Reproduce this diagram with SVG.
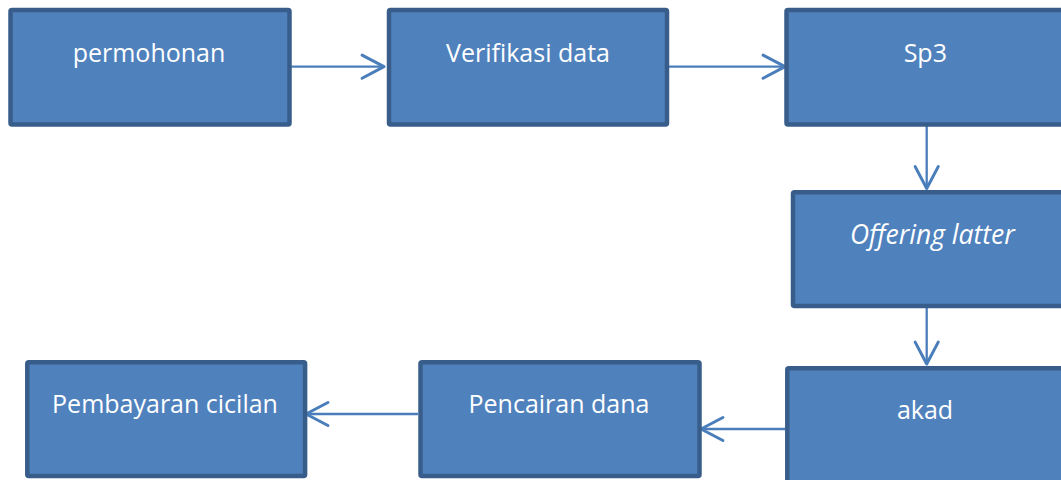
<svg xmlns="http://www.w3.org/2000/svg" width="1061" height="480" viewBox="0 0 1061 480">
  <style>
    .box { fill: #4F81BD; stroke: #385D8A; stroke-width: 4.5; }
    .lbl { fill: #FFFFFF; font-family: "Open Sans", "Liberation Sans", sans-serif; font-size: 25px; text-anchor: middle; }
    .it { font-style: italic; font-size: 26.5px; }
    .edge { fill: none; stroke: #4A7EBB; stroke-width: 2.3; }
  </style>
  <defs>
    <marker id="arrow" markerUnits="userSpaceOnUse" markerWidth="30" markerHeight="30" viewBox="-22 -13 26 26" refX="0" refY="0" orient="auto">
      <path d="M-19,-10 L0,0 L-19,10" fill="none" stroke="#4A7EBB" stroke-width="2.6" stroke-linejoin="round" stroke-linecap="round"/>
    </marker>
  </defs>

  <g id="connectors">
    <line class="edge" x1="291" y1="66.7" x2="384" y2="66.7" marker-end="url(#arrow)"/>
    <line class="edge" x1="669" y1="66.7" x2="785" y2="66.7" marker-end="url(#arrow)"/>
    <line class="edge" x1="926.7" y1="126" x2="926.7" y2="188.5" marker-end="url(#arrow)"/>
    <line class="edge" x1="926.7" y1="308" x2="926.7" y2="364" marker-end="url(#arrow)"/>
    <line class="edge" x1="785" y1="429" x2="701" y2="429" marker-end="url(#arrow)"/>
    <line class="edge" x1="418" y1="414" x2="306" y2="414" marker-end="url(#arrow)"/>
  </g>

  <g id="node-permohonan">
    <rect class="box" x="10.5" y="10" width="279" height="114.5" rx="1.5"/>
    <text class="lbl" x="149" y="62">permohonan</text>
  </g>
  <g id="node-verifikasi">
    <rect class="box" x="389" y="10" width="278" height="114.5" rx="1.5"/>
    <text class="lbl" x="528" y="62">Verifikasi data</text>
  </g>
  <g id="node-sp3">
    <rect class="box" x="786.5" y="10" width="280" height="114.5" rx="1.5"/>
    <text class="lbl" x="925.3" y="62">Sp3</text>
  </g>
  <g id="node-offering">
    <rect class="box" x="793" y="192.3" width="280" height="113.8" rx="1.5"/>
    <text class="lbl it" x="932.3" y="243.5">Offering latter</text>
  </g>
  <g id="node-akad">
    <rect class="box" x="787.3" y="368.3" width="280" height="114" rx="1.5"/>
    <text class="lbl" x="925" y="419">akad</text>
  </g>
  <g id="node-pencairan">
    <rect class="box" x="420.5" y="362.3" width="279" height="113.8" rx="1.5"/>
    <text class="lbl" x="559" y="413.3">Pencairan dana</text>
  </g>
  <g id="node-pembayaran">
    <rect class="box" x="27.3" y="362.3" width="277.8" height="113.8" rx="1.5"/>
    <text class="lbl" x="165" y="413.3">Pembayaran cicilan</text>
  </g>
</svg>
